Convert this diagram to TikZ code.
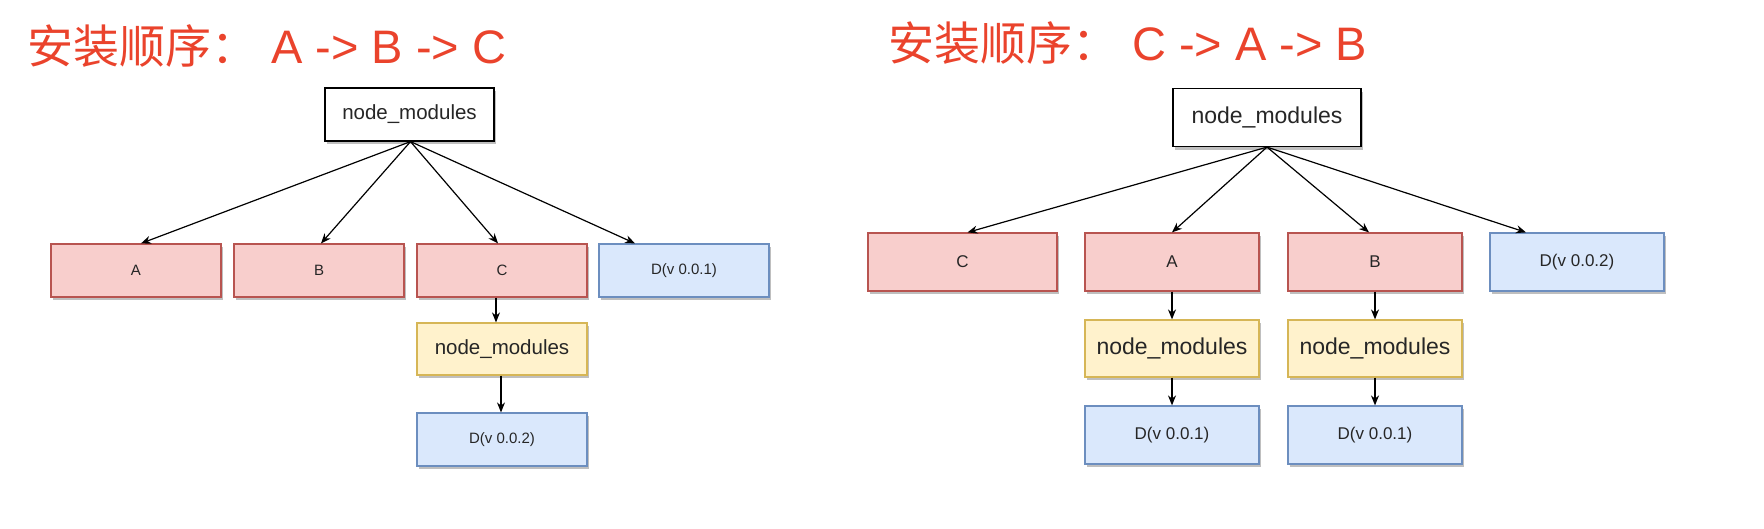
\documentclass[tikz,border=0pt]{standalone}
\usepackage{fontspec}
\setmainfont{Liberation Sans}
\newfontfamily\cjk{Noto Sans CJK SC}
\usetikzlibrary{shadows,arrows.meta}
\definecolor{titlered}{RGB}{234,67,44}
\definecolor{pinkfill}{HTML}{F8CECC}
\definecolor{pinkline}{HTML}{B85450}
\definecolor{yelfill}{HTML}{FFF2CC}
\definecolor{yelline}{HTML}{D6B656}
\definecolor{bluefill}{HTML}{DAE8FC}
\definecolor{blueline}{HTML}{6C8EBF}
\definecolor{txt}{HTML}{262626}
\newcommand{\ttlcjk}[1]{{\cjk\fontsize{46}{52}\selectfont #1}}
\newcommand{\ttllat}[1]{{\fontsize{47}{52}\selectfont #1}}
\begin{document}
\begin{tikzpicture}[x=1pt,y=-1pt,
  basebox/.style={draw, line width=1.2pt, inner sep=0pt, anchor=center, text=txt,
    drop shadow={shadow xshift=2pt, shadow yshift=-3pt, opacity=0.25, fill=black}},
  rootbox/.style={basebox, fill=white, draw=black},
  pinkbox/.style={basebox, fill=pinkfill, draw=pinkline},
  yelbox/.style={basebox, fill=yelfill, draw=yelline},
  bluebox/.style={basebox, fill=bluefill, draw=blueline},
  lsize/.style={minimum width=170pt, minimum height=53pt},
  rsize/.style={minimum width=174pt, minimum height=58pt},
  smallL/.style={font=\fontsize{15}{18}\selectfont},
  bigL/.style={font=\fontsize{20.5}{24}\selectfont},
  smallR/.style={font=\fontsize{17}{20}\selectfont},
  bigR/.style={font=\fontsize{23}{27}\selectfont},
  titletext/.style={anchor=base west, inner sep=0pt, text=titlered},
  arr/.style={draw=black, line width=1.2pt, -{Stealth[length=10pt,width=8pt]}}
]
\useasboundingbox (0,0) rectangle (1764,528);

% titles
\node[titletext] (t1) at (27,63) {\ttlcjk{安装顺序：}\hspace{14pt}\ttllat{A -> B -> C}};
\node[titletext] (t2) at (888,60) {\ttlcjk{安装顺序：}\hspace{14pt}\ttllat{C -> A -> B}};

% ---------- left diagram ----------
\node[rootbox, bigL, minimum width=169pt, minimum height=53pt] (lroot) at (409.5,114.5) {node\_modules};
\node[pinkbox, smallL, lsize] (lA) at (136,270.5) {A};
\node[pinkbox, smallL, lsize] (lB) at (319,270.5) {B};
\node[pinkbox, smallL, lsize] (lC) at (502,270.5) {C};
\node[bluebox, smallL, lsize] (lD) at (684,270.5) {D(v 0.0.1)};
\node[yelbox, bigL, lsize, minimum height=52pt] (lnm) at (502,349) {node\_modules};
\node[bluebox, smallL, lsize] (lD2) at (502,439.5) {D(v 0.0.2)};

\draw[arr] ([xshift=1pt]lroot.south) -- ([xshift=5pt]lA.north);
\draw[arr] ([xshift=1pt]lroot.south) -- ([xshift=2pt]lB.north);
\draw[arr] ([xshift=1pt]lroot.south) -- ([xshift=-4pt]lC.north);
\draw[arr] ([xshift=1pt]lroot.south) -- ([xshift=-49pt]lD.north);
\draw[arr] ([xshift=-6pt]lC.south) -- ([xshift=-6pt]lnm.north);
\draw[arr] ([xshift=-1pt]lnm.south) -- ([xshift=-1pt]lD2.north);

% ---------- right diagram ----------
\node[rootbox, bigR, minimum width=188pt, minimum height=58pt] (rroot) at (1267,117.5) {node\_modules};
\node[pinkbox, smallR, rsize, minimum width=189pt] (rC) at (962.5,262) {C};
\node[pinkbox, smallR, rsize] (rA) at (1172,262) {A};
\node[pinkbox, smallR, rsize] (rB) at (1375,262) {B};
\node[bluebox, smallR, rsize] (rD) at (1577,262) {D(v 0.0.2)};
\node[yelbox, bigR, rsize, minimum height=57pt] (rnmA) at (1172,348.5) {node\_modules};
\node[yelbox, bigR, rsize, minimum height=57pt] (rnmB) at (1375,348.5) {node\_modules};
\node[bluebox, smallR, rsize] (rDA) at (1172,435) {D(v 0.0.1)};
\node[bluebox, smallR, rsize] (rDB) at (1375,435) {D(v 0.0.1)};

\draw[arr] (rroot.south) -- ([xshift=5pt]rC.north);
\draw[arr] (rroot.south) -- (rA.north);
\draw[arr] (rroot.south) -- ([xshift=-6pt]rB.north);
\draw[arr] (rroot.south) -- ([xshift=-51pt]rD.north);
\draw[arr] (rA.south) -- (rnmA.north);
\draw[arr] (rnmA.south) -- (rDA.north);
\draw[arr] (rB.south) -- (rnmB.north);
\draw[arr] (rnmB.south) -- (rDB.north);
\end{tikzpicture}
\end{document}
